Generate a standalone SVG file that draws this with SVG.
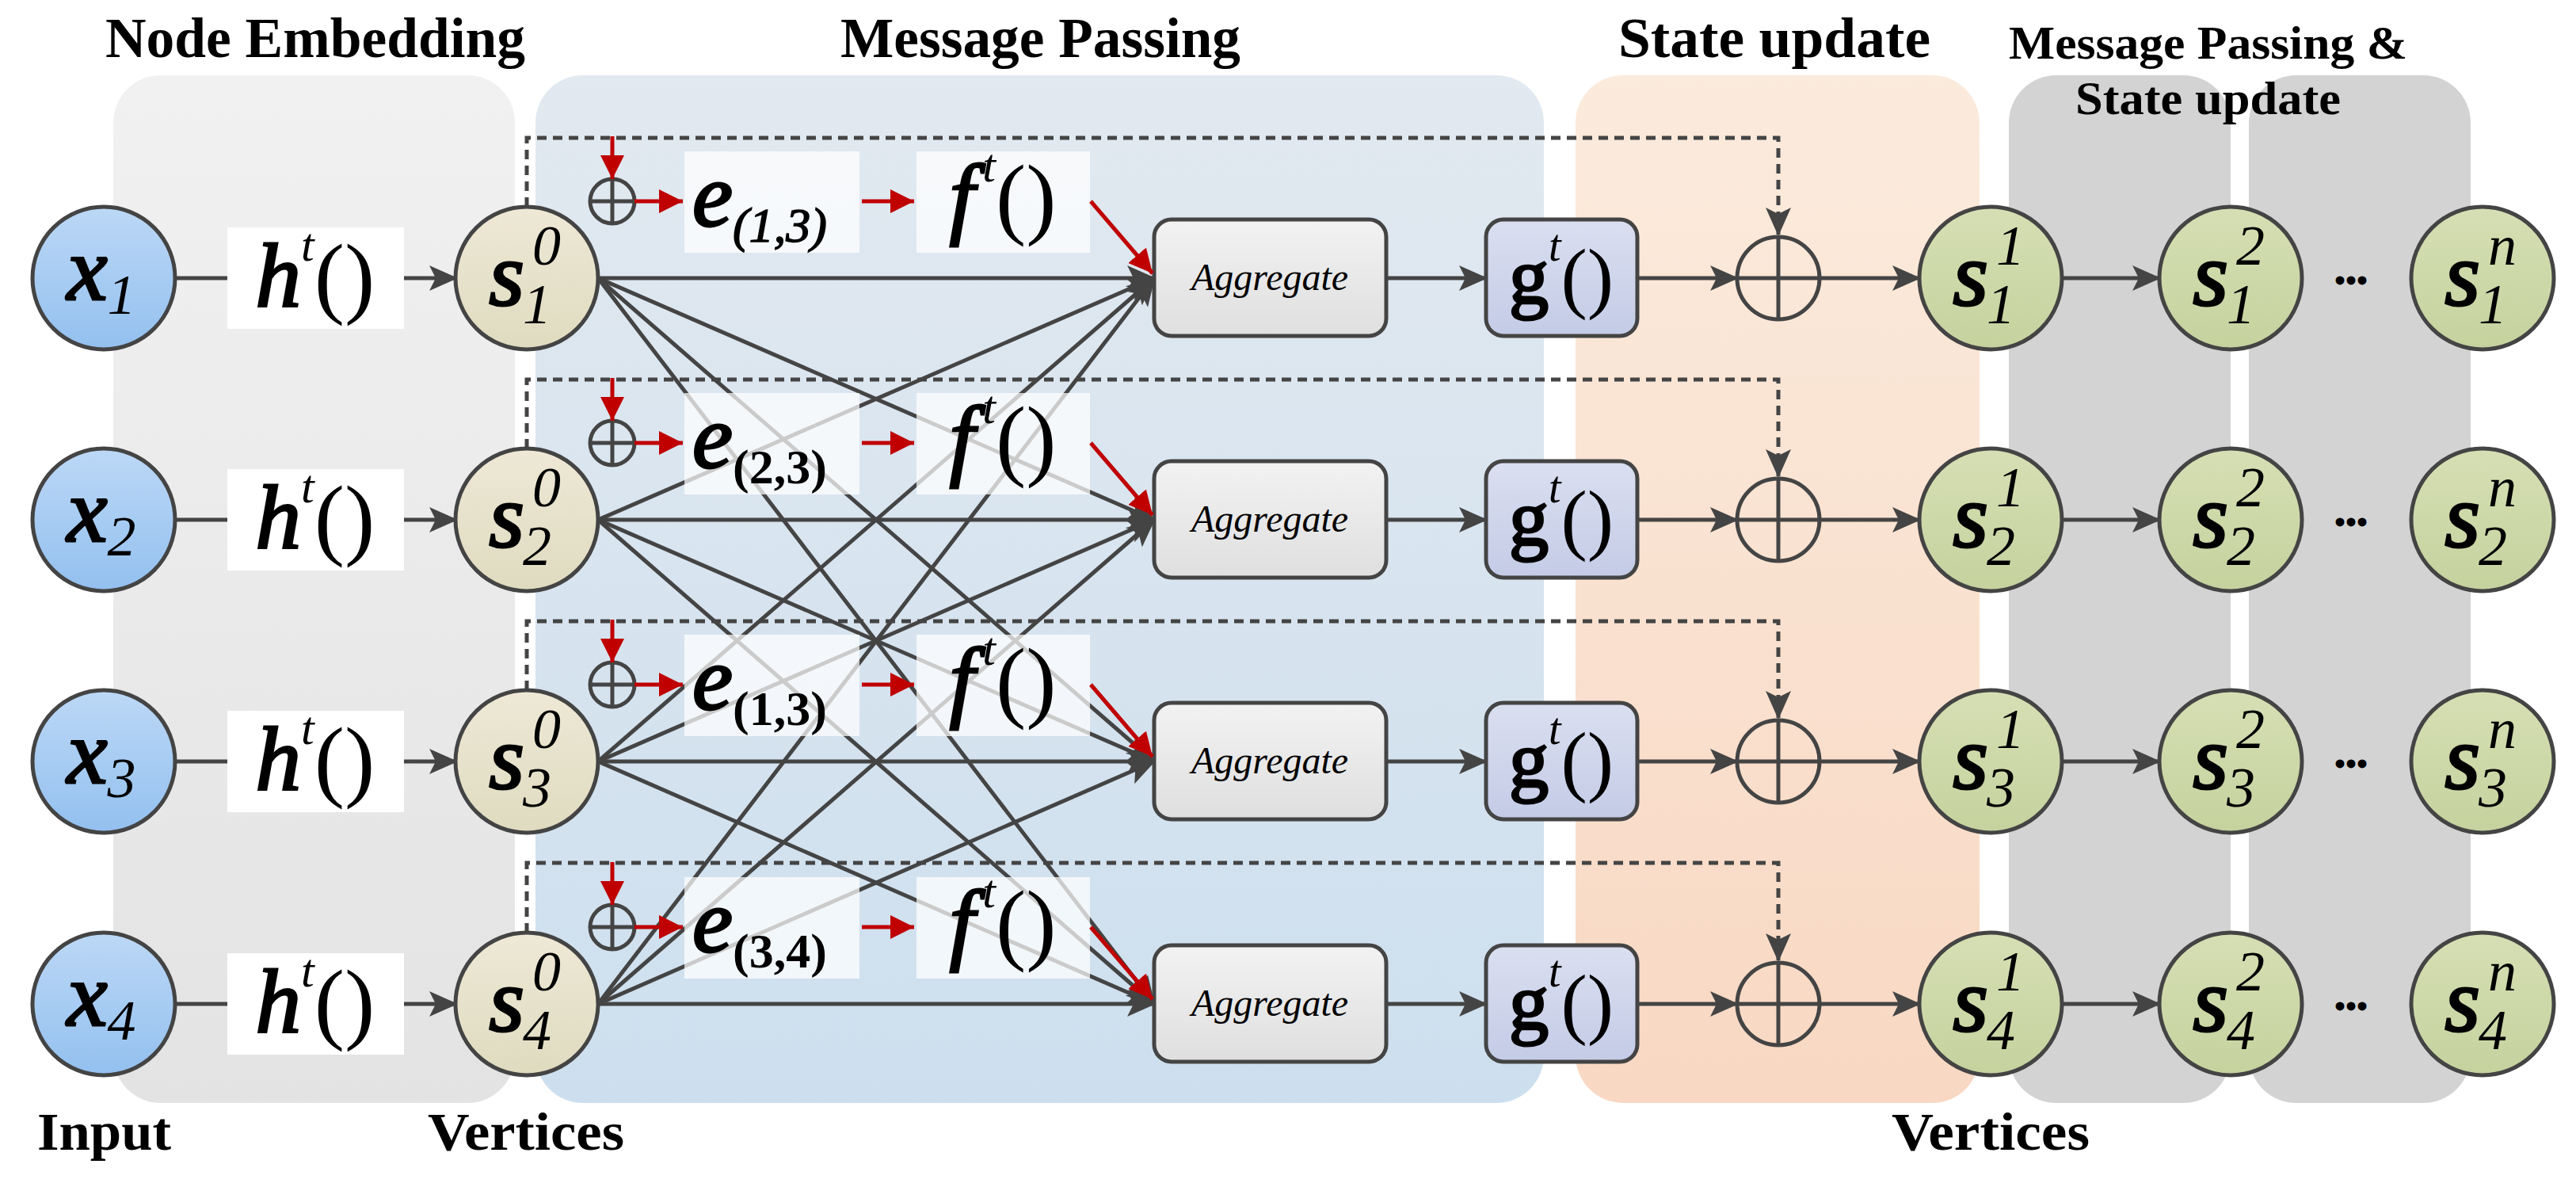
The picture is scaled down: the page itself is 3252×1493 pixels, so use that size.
<svg xmlns="http://www.w3.org/2000/svg" width="3252" height="1493" viewBox="0 0 3252 1493">
<defs>
<linearGradient id="gN" x1="0" y1="0" x2="0" y2="1"><stop offset="0" stop-color="#f1f1f1"/><stop offset="1" stop-color="#e3e3e3"/></linearGradient>
<linearGradient id="gM" x1="0" y1="0" x2="0" y2="1"><stop offset="0" stop-color="#e2e9f0"/><stop offset="1" stop-color="#cddfee"/></linearGradient>
<linearGradient id="gS" x1="0" y1="0" x2="0" y2="1"><stop offset="0" stop-color="#fbebdd"/><stop offset="1" stop-color="#f8d8c3"/></linearGradient>
<linearGradient id="gX" x1="0" y1="0" x2="0" y2="1"><stop offset="0" stop-color="#bcd8f6"/><stop offset="1" stop-color="#93c0ef"/></linearGradient>
<linearGradient id="gS0" x1="0" y1="0" x2="0" y2="1"><stop offset="0" stop-color="#eee8d6"/><stop offset="1" stop-color="#dfdbbf"/></linearGradient>
<linearGradient id="gS1" x1="0" y1="0" x2="0" y2="1"><stop offset="0" stop-color="#d6dfb4"/><stop offset="1" stop-color="#c5d29e"/></linearGradient>
<linearGradient id="gA" x1="0" y1="0" x2="0" y2="1"><stop offset="0" stop-color="#f2f2f2"/><stop offset="1" stop-color="#dfdfdf"/></linearGradient>
<linearGradient id="gG" x1="0" y1="0" x2="0" y2="1"><stop offset="0" stop-color="#dadff0"/><stop offset="1" stop-color="#c4cbe6"/></linearGradient>
<marker id="ah" markerUnits="userSpaceOnUse" markerWidth="36" markerHeight="32" refX="34" refY="16" orient="auto"><path d="M0,0 L36,16 L0,32 L8,16 Z" fill="#444"/></marker>
<marker id="rh" markerUnits="userSpaceOnUse" markerWidth="30" markerHeight="30" refX="30" refY="15" orient="auto"><path d="M0,0 L30,15 L0,30 Z" fill="#c00000"/></marker>
</defs>
<style>
.t{font-family:"Liberation Serif","Times New Roman",serif;font-weight:bold;fill:#000}
.bi{font-family:"Liberation Serif","Times New Roman",serif;font-style:italic;font-weight:normal;fill:#000;stroke:#000;stroke-width:3}
.gb{font-family:"Liberation Serif","Times New Roman",serif;font-weight:normal;fill:#000;stroke:#000;stroke-width:3}
.i{font-family:"Liberation Serif","Times New Roman",serif;font-style:italic;fill:#000}
.r{font-family:"Liberation Serif","Times New Roman",serif;fill:#000}
.ln{stroke:#444;stroke-width:5;fill:none}
.dash{stroke:#444;stroke-width:5;fill:none;stroke-dasharray:12,8}
.red{stroke:#c00000;stroke-width:5;fill:none}
.box{fill:#fff}
.wb{fill:#fff;fill-opacity:0.72}
.nd{stroke:#444;stroke-width:5}
</style>
<g id="panels">
<rect x="143" y="95" width="507" height="1297" rx="60" fill="url(#gN)"/>
<rect x="676" y="95" width="1273" height="1297" rx="60" fill="url(#gM)"/>
<rect x="1989" y="95" width="510" height="1297" rx="60" fill="url(#gS)"/>
<rect x="2536" y="95" width="280" height="1297" rx="60" fill="#d3d3d3"/>
<rect x="2839" y="95" width="280" height="1297" rx="60" fill="#d3d3d3"/>
</g>
<g id="titles">
<text class="t" x="133" y="72" font-size="72" textLength="530" lengthAdjust="spacingAndGlyphs">Node Embedding</text>
<text class="t" x="1061" y="72" font-size="72" textLength="505" lengthAdjust="spacingAndGlyphs">Message Passing</text>
<text class="t" x="2043" y="72" font-size="72" textLength="394" lengthAdjust="spacingAndGlyphs">State update</text>
<text class="t" x="2536" y="74" font-size="60" textLength="503" lengthAdjust="spacingAndGlyphs">Message Passing &amp;</text>
<text class="t" x="2620" y="144" font-size="60" textLength="335" lengthAdjust="spacingAndGlyphs">State update</text>
<text class="t" x="47" y="1451" font-size="68" textLength="169" lengthAdjust="spacingAndGlyphs">Input</text>
<text class="t" x="540" y="1451" font-size="68" textLength="248" lengthAdjust="spacingAndGlyphs">Vertices</text>
<text class="t" x="2388" y="1451" font-size="68" textLength="250" lengthAdjust="spacingAndGlyphs">Vertices</text>
</g>
<g id="connectors">
<line class="ln" x1="755" y1="351" x2="1457" y2="351" marker-end="url(#ah)"/>
<line class="ln" x1="755" y1="351" x2="1457" y2="656" marker-end="url(#ah)"/>
<line class="ln" x1="755" y1="351" x2="1457" y2="961" marker-end="url(#ah)"/>
<line class="ln" x1="755" y1="351" x2="1457" y2="1267" marker-end="url(#ah)"/>
<line class="ln" x1="755" y1="656" x2="1457" y2="351" marker-end="url(#ah)"/>
<line class="ln" x1="755" y1="656" x2="1457" y2="656" marker-end="url(#ah)"/>
<line class="ln" x1="755" y1="656" x2="1457" y2="961" marker-end="url(#ah)"/>
<line class="ln" x1="755" y1="656" x2="1457" y2="1267" marker-end="url(#ah)"/>
<line class="ln" x1="755" y1="961" x2="1457" y2="351" marker-end="url(#ah)"/>
<line class="ln" x1="755" y1="961" x2="1457" y2="656" marker-end="url(#ah)"/>
<line class="ln" x1="755" y1="961" x2="1457" y2="961" marker-end="url(#ah)"/>
<line class="ln" x1="755" y1="961" x2="1457" y2="1267" marker-end="url(#ah)"/>
<line class="ln" x1="755" y1="1267" x2="1457" y2="351" marker-end="url(#ah)"/>
<line class="ln" x1="755" y1="1267" x2="1457" y2="656" marker-end="url(#ah)"/>
<line class="ln" x1="755" y1="1267" x2="1457" y2="961" marker-end="url(#ah)"/>
<line class="ln" x1="755" y1="1267" x2="1457" y2="1267" marker-end="url(#ah)"/>
<g id="rowconn1">
<line class="ln" x1="222" y1="351" x2="287" y2="351"/>
<line class="ln" x1="510" y1="351" x2="576" y2="351" marker-end="url(#ah)"/>
<polyline class="dash" points="665,261 665,174 2245,174 2245,296" marker-end="url(#ah)"/>
<line class="ln" x1="1750" y1="351" x2="1876" y2="351" marker-end="url(#ah)"/>
<line class="ln" x1="2068" y1="351" x2="2193" y2="351" marker-end="url(#ah)"/>
<line class="ln" x1="2297" y1="351" x2="2423" y2="351" marker-end="url(#ah)"/>
<line class="ln" x1="2603" y1="351" x2="2726" y2="351" marker-end="url(#ah)"/>
</g>
<g id="rowconn2">
<line class="ln" x1="222" y1="656" x2="287" y2="656"/>
<line class="ln" x1="510" y1="656" x2="576" y2="656" marker-end="url(#ah)"/>
<polyline class="dash" points="665,566 665,479 2245,479 2245,601" marker-end="url(#ah)"/>
<line class="ln" x1="1750" y1="656" x2="1876" y2="656" marker-end="url(#ah)"/>
<line class="ln" x1="2068" y1="656" x2="2193" y2="656" marker-end="url(#ah)"/>
<line class="ln" x1="2297" y1="656" x2="2423" y2="656" marker-end="url(#ah)"/>
<line class="ln" x1="2603" y1="656" x2="2726" y2="656" marker-end="url(#ah)"/>
</g>
<g id="rowconn3">
<line class="ln" x1="222" y1="961" x2="287" y2="961"/>
<line class="ln" x1="510" y1="961" x2="576" y2="961" marker-end="url(#ah)"/>
<polyline class="dash" points="665,871 665,784 2245,784 2245,906" marker-end="url(#ah)"/>
<line class="ln" x1="1750" y1="961" x2="1876" y2="961" marker-end="url(#ah)"/>
<line class="ln" x1="2068" y1="961" x2="2193" y2="961" marker-end="url(#ah)"/>
<line class="ln" x1="2297" y1="961" x2="2423" y2="961" marker-end="url(#ah)"/>
<line class="ln" x1="2603" y1="961" x2="2726" y2="961" marker-end="url(#ah)"/>
</g>
<g id="rowconn4">
<line class="ln" x1="222" y1="1267" x2="287" y2="1267"/>
<line class="ln" x1="510" y1="1267" x2="576" y2="1267" marker-end="url(#ah)"/>
<polyline class="dash" points="665,1177 665,1089 2245,1089 2245,1212" marker-end="url(#ah)"/>
<line class="ln" x1="1750" y1="1267" x2="1876" y2="1267" marker-end="url(#ah)"/>
<line class="ln" x1="2068" y1="1267" x2="2193" y2="1267" marker-end="url(#ah)"/>
<line class="ln" x1="2297" y1="1267" x2="2423" y2="1267" marker-end="url(#ah)"/>
<line class="ln" x1="2603" y1="1267" x2="2726" y2="1267" marker-end="url(#ah)"/>
</g>
</g>

<g id="x1"><circle cx="131" cy="351" r="90" fill="url(#gX)" class="nd"/><text x="128" y="378" text-anchor="middle"><tspan class="bi" font-size="115">x</tspan><tspan class="i" font-size="72" dy="18">1</tspan></text></g>
<g id="h1"><rect class="box" x="287" y="287" width="223" height="128"/><text x="398" y="387" text-anchor="middle"><tspan class="bi" font-size="115">h</tspan><tspan class="i" font-size="60" dy="-58">t</tspan><tspan class="r" font-size="115" dy="58">()</tspan></text></g>
<g id="s01"><circle cx="665" cy="351" r="90" fill="url(#gS0)" class="nd"/><text class="bi" x="662" y="385" font-size="115" text-anchor="end">s</text><text class="i" x="672" y="334" font-size="72">0</text><text class="i" x="660" y="408" font-size="72">1</text></g>
<g id="op1"><circle cx="773" cy="254" r="28" fill="none" class="nd"/><line class="ln" x1="745" y1="254" x2="801" y2="254"/><line class="ln" x1="773" y1="226" x2="773" y2="282"/></g>
<g id="e1"><rect class="wb" x="864" y="191" width="221" height="128"/><text x="874" y="285"><tspan class="bi" font-size="115">e</tspan><tspan class="i" font-size="62" dy="20" stroke="#000" stroke-width="1.5">(1,3)</tspan></text></g>
<g id="f1"><rect class="wb" x="1157" y="191" width="219" height="128"/><text x="1266" y="287" text-anchor="middle"><tspan class="bi" font-size="115">f</tspan><tspan class="i" font-size="60" dy="-58" dx="10">t</tspan><tspan class="r" font-size="115" dy="58">()</tspan></text></g>
<g id="agg1"><rect x="1457" y="277" width="293" height="147" rx="22" fill="url(#gA)" class="nd"/><text class="i" x="1603" y="366" font-size="48" text-anchor="middle">Aggregate</text></g>
<g id="g1"><rect x="1876" y="277" width="191" height="147" rx="22" fill="url(#gG)" class="nd"/><text x="1971" y="383" text-anchor="middle"><tspan class="gb" font-size="100">g</tspan><tspan class="i" font-size="56" dy="-54">t</tspan><tspan class="r" font-size="100" dy="54">()</tspan></text></g>
<g id="opb1"><circle cx="2245" cy="351" r="52" fill="none" class="nd"/><line class="ln" x1="2193" y1="351" x2="2297" y2="351"/><line class="ln" x1="2245" y1="299" x2="2245" y2="403"/></g>
<g id="s11"><circle cx="2513" cy="351" r="90" fill="url(#gS1)" class="nd"/><text class="bi" x="2510" y="385" font-size="115" text-anchor="end">s</text><text class="i" x="2520" y="334" font-size="72">1</text><text class="i" x="2508" y="408" font-size="72">1</text></g>
<g id="s21"><circle cx="2816" cy="351" r="90" fill="url(#gS1)" class="nd"/><text class="bi" x="2813" y="385" font-size="115" text-anchor="end">s</text><text class="i" x="2823" y="334" font-size="72">2</text><text class="i" x="2811" y="408" font-size="72">1</text></g>
<g id="sn1"><circle cx="3134" cy="351" r="90" fill="url(#gS1)" class="nd"/><text class="bi" x="3131" y="385" font-size="115" text-anchor="end">s</text><text class="i" x="3141" y="334" font-size="72">n</text><text class="i" x="3129" y="408" font-size="72">1</text></g>
<text class="t" x="2968" y="368" font-size="40" text-anchor="middle">•••</text>

<g id="x2"><circle cx="131" cy="656" r="90" fill="url(#gX)" class="nd"/><text x="128" y="683" text-anchor="middle"><tspan class="bi" font-size="115">x</tspan><tspan class="i" font-size="72" dy="18">2</tspan></text></g>
<g id="h2"><rect class="box" x="287" y="592" width="223" height="128"/><text x="398" y="692" text-anchor="middle"><tspan class="bi" font-size="115">h</tspan><tspan class="i" font-size="60" dy="-58">t</tspan><tspan class="r" font-size="115" dy="58">()</tspan></text></g>
<g id="s02"><circle cx="665" cy="656" r="90" fill="url(#gS0)" class="nd"/><text class="bi" x="662" y="690" font-size="115" text-anchor="end">s</text><text class="i" x="672" y="639" font-size="72">0</text><text class="i" x="660" y="713" font-size="72">2</text></g>
<g id="op2"><circle cx="773" cy="559" r="28" fill="none" class="nd"/><line class="ln" x1="745" y1="559" x2="801" y2="559"/><line class="ln" x1="773" y1="531" x2="773" y2="587"/></g>
<g id="e2"><rect class="wb" x="864" y="496" width="221" height="128"/><text x="874" y="590"><tspan class="bi" font-size="115">e</tspan><tspan class="t" font-size="62" dy="20">(2,3)</tspan></text></g>
<g id="f2"><rect class="wb" x="1157" y="496" width="219" height="128"/><text x="1266" y="592" text-anchor="middle"><tspan class="bi" font-size="115">f</tspan><tspan class="i" font-size="60" dy="-58" dx="10">t</tspan><tspan class="r" font-size="115" dy="58">()</tspan></text></g>
<g id="agg2"><rect x="1457" y="582" width="293" height="147" rx="22" fill="url(#gA)" class="nd"/><text class="i" x="1603" y="671" font-size="48" text-anchor="middle">Aggregate</text></g>
<g id="g2"><rect x="1876" y="582" width="191" height="147" rx="22" fill="url(#gG)" class="nd"/><text x="1971" y="688" text-anchor="middle"><tspan class="gb" font-size="100">g</tspan><tspan class="i" font-size="56" dy="-54">t</tspan><tspan class="r" font-size="100" dy="54">()</tspan></text></g>
<g id="opb2"><circle cx="2245" cy="656" r="52" fill="none" class="nd"/><line class="ln" x1="2193" y1="656" x2="2297" y2="656"/><line class="ln" x1="2245" y1="604" x2="2245" y2="708"/></g>
<g id="s12"><circle cx="2513" cy="656" r="90" fill="url(#gS1)" class="nd"/><text class="bi" x="2510" y="690" font-size="115" text-anchor="end">s</text><text class="i" x="2520" y="639" font-size="72">1</text><text class="i" x="2508" y="713" font-size="72">2</text></g>
<g id="s22"><circle cx="2816" cy="656" r="90" fill="url(#gS1)" class="nd"/><text class="bi" x="2813" y="690" font-size="115" text-anchor="end">s</text><text class="i" x="2823" y="639" font-size="72">2</text><text class="i" x="2811" y="713" font-size="72">2</text></g>
<g id="sn2"><circle cx="3134" cy="656" r="90" fill="url(#gS1)" class="nd"/><text class="bi" x="3131" y="690" font-size="115" text-anchor="end">s</text><text class="i" x="3141" y="639" font-size="72">n</text><text class="i" x="3129" y="713" font-size="72">2</text></g>
<text class="t" x="2968" y="673" font-size="40" text-anchor="middle">•••</text>

<g id="x3"><circle cx="131" cy="961" r="90" fill="url(#gX)" class="nd"/><text x="128" y="988" text-anchor="middle"><tspan class="bi" font-size="115">x</tspan><tspan class="i" font-size="72" dy="18">3</tspan></text></g>
<g id="h3"><rect class="box" x="287" y="897" width="223" height="128"/><text x="398" y="997" text-anchor="middle"><tspan class="bi" font-size="115">h</tspan><tspan class="i" font-size="60" dy="-58">t</tspan><tspan class="r" font-size="115" dy="58">()</tspan></text></g>
<g id="s03"><circle cx="665" cy="961" r="90" fill="url(#gS0)" class="nd"/><text class="bi" x="662" y="995" font-size="115" text-anchor="end">s</text><text class="i" x="672" y="944" font-size="72">0</text><text class="i" x="660" y="1018" font-size="72">3</text></g>
<g id="op3"><circle cx="773" cy="864" r="28" fill="none" class="nd"/><line class="ln" x1="745" y1="864" x2="801" y2="864"/><line class="ln" x1="773" y1="836" x2="773" y2="892"/></g>
<g id="e3"><rect class="wb" x="864" y="801" width="221" height="128"/><text x="874" y="895"><tspan class="bi" font-size="115">e</tspan><tspan class="t" font-size="62" dy="20">(1,3)</tspan></text></g>
<g id="f3"><rect class="wb" x="1157" y="801" width="219" height="128"/><text x="1266" y="897" text-anchor="middle"><tspan class="bi" font-size="115">f</tspan><tspan class="i" font-size="60" dy="-58" dx="10">t</tspan><tspan class="r" font-size="115" dy="58">()</tspan></text></g>
<g id="agg3"><rect x="1457" y="887" width="293" height="147" rx="22" fill="url(#gA)" class="nd"/><text class="i" x="1603" y="976" font-size="48" text-anchor="middle">Aggregate</text></g>
<g id="g3"><rect x="1876" y="887" width="191" height="147" rx="22" fill="url(#gG)" class="nd"/><text x="1971" y="993" text-anchor="middle"><tspan class="gb" font-size="100">g</tspan><tspan class="i" font-size="56" dy="-54">t</tspan><tspan class="r" font-size="100" dy="54">()</tspan></text></g>
<g id="opb3"><circle cx="2245" cy="961" r="52" fill="none" class="nd"/><line class="ln" x1="2193" y1="961" x2="2297" y2="961"/><line class="ln" x1="2245" y1="909" x2="2245" y2="1013"/></g>
<g id="s13"><circle cx="2513" cy="961" r="90" fill="url(#gS1)" class="nd"/><text class="bi" x="2510" y="995" font-size="115" text-anchor="end">s</text><text class="i" x="2520" y="944" font-size="72">1</text><text class="i" x="2508" y="1018" font-size="72">3</text></g>
<g id="s23"><circle cx="2816" cy="961" r="90" fill="url(#gS1)" class="nd"/><text class="bi" x="2813" y="995" font-size="115" text-anchor="end">s</text><text class="i" x="2823" y="944" font-size="72">2</text><text class="i" x="2811" y="1018" font-size="72">3</text></g>
<g id="sn3"><circle cx="3134" cy="961" r="90" fill="url(#gS1)" class="nd"/><text class="bi" x="3131" y="995" font-size="115" text-anchor="end">s</text><text class="i" x="3141" y="944" font-size="72">n</text><text class="i" x="3129" y="1018" font-size="72">3</text></g>
<text class="t" x="2968" y="978" font-size="40" text-anchor="middle">•••</text>

<g id="x4"><circle cx="131" cy="1267" r="90" fill="url(#gX)" class="nd"/><text x="128" y="1294" text-anchor="middle"><tspan class="bi" font-size="115">x</tspan><tspan class="i" font-size="72" dy="18">4</tspan></text></g>
<g id="h4"><rect class="box" x="287" y="1203" width="223" height="128"/><text x="398" y="1303" text-anchor="middle"><tspan class="bi" font-size="115">h</tspan><tspan class="i" font-size="60" dy="-58">t</tspan><tspan class="r" font-size="115" dy="58">()</tspan></text></g>
<g id="s04"><circle cx="665" cy="1267" r="90" fill="url(#gS0)" class="nd"/><text class="bi" x="662" y="1301" font-size="115" text-anchor="end">s</text><text class="i" x="672" y="1250" font-size="72">0</text><text class="i" x="660" y="1324" font-size="72">4</text></g>
<g id="op4"><circle cx="773" cy="1170" r="28" fill="none" class="nd"/><line class="ln" x1="745" y1="1170" x2="801" y2="1170"/><line class="ln" x1="773" y1="1142" x2="773" y2="1198"/></g>
<g id="e4"><rect class="wb" x="864" y="1107" width="221" height="128"/><text x="874" y="1201"><tspan class="bi" font-size="115">e</tspan><tspan class="t" font-size="62" dy="20">(3,4)</tspan></text></g>
<g id="f4"><rect class="wb" x="1157" y="1107" width="219" height="128"/><text x="1266" y="1203" text-anchor="middle"><tspan class="bi" font-size="115">f</tspan><tspan class="i" font-size="60" dy="-58" dx="10">t</tspan><tspan class="r" font-size="115" dy="58">()</tspan></text></g>
<g id="agg4"><rect x="1457" y="1193" width="293" height="147" rx="22" fill="url(#gA)" class="nd"/><text class="i" x="1603" y="1282" font-size="48" text-anchor="middle">Aggregate</text></g>
<g id="g4"><rect x="1876" y="1193" width="191" height="147" rx="22" fill="url(#gG)" class="nd"/><text x="1971" y="1299" text-anchor="middle"><tspan class="gb" font-size="100">g</tspan><tspan class="i" font-size="56" dy="-54">t</tspan><tspan class="r" font-size="100" dy="54">()</tspan></text></g>
<g id="opb4"><circle cx="2245" cy="1267" r="52" fill="none" class="nd"/><line class="ln" x1="2193" y1="1267" x2="2297" y2="1267"/><line class="ln" x1="2245" y1="1215" x2="2245" y2="1319"/></g>
<g id="s14"><circle cx="2513" cy="1267" r="90" fill="url(#gS1)" class="nd"/><text class="bi" x="2510" y="1301" font-size="115" text-anchor="end">s</text><text class="i" x="2520" y="1250" font-size="72">1</text><text class="i" x="2508" y="1324" font-size="72">4</text></g>
<g id="s24"><circle cx="2816" cy="1267" r="90" fill="url(#gS1)" class="nd"/><text class="bi" x="2813" y="1301" font-size="115" text-anchor="end">s</text><text class="i" x="2823" y="1250" font-size="72">2</text><text class="i" x="2811" y="1324" font-size="72">4</text></g>
<g id="sn4"><circle cx="3134" cy="1267" r="90" fill="url(#gS1)" class="nd"/><text class="bi" x="3131" y="1301" font-size="115" text-anchor="end">s</text><text class="i" x="3141" y="1250" font-size="72">n</text><text class="i" x="3129" y="1324" font-size="72">4</text></g>
<text class="t" x="2968" y="1284" font-size="40" text-anchor="middle">•••</text>

<g id="redconnectors">
<line class="red" x1="773" y1="172" x2="773" y2="226" marker-end="url(#rh)"/>
<line class="red" x1="801" y1="254" x2="862" y2="254" marker-end="url(#rh)"/>
<line class="red" x1="1088" y1="254" x2="1154" y2="254" marker-end="url(#rh)"/>
<line class="red" x1="1377" y1="254" x2="1455" y2="345" marker-end="url(#rh)"/>
<line class="red" x1="773" y1="477" x2="773" y2="531" marker-end="url(#rh)"/>
<line class="red" x1="801" y1="559" x2="862" y2="559" marker-end="url(#rh)"/>
<line class="red" x1="1088" y1="559" x2="1154" y2="559" marker-end="url(#rh)"/>
<line class="red" x1="1377" y1="559" x2="1455" y2="650" marker-end="url(#rh)"/>
<line class="red" x1="773" y1="782" x2="773" y2="836" marker-end="url(#rh)"/>
<line class="red" x1="801" y1="864" x2="862" y2="864" marker-end="url(#rh)"/>
<line class="red" x1="1088" y1="864" x2="1154" y2="864" marker-end="url(#rh)"/>
<line class="red" x1="1377" y1="864" x2="1455" y2="955" marker-end="url(#rh)"/>
<line class="red" x1="773" y1="1088" x2="773" y2="1142" marker-end="url(#rh)"/>
<line class="red" x1="801" y1="1170" x2="862" y2="1170" marker-end="url(#rh)"/>
<line class="red" x1="1088" y1="1170" x2="1154" y2="1170" marker-end="url(#rh)"/>
<line class="red" x1="1377" y1="1170" x2="1455" y2="1261" marker-end="url(#rh)"/>
</g>
</svg>
